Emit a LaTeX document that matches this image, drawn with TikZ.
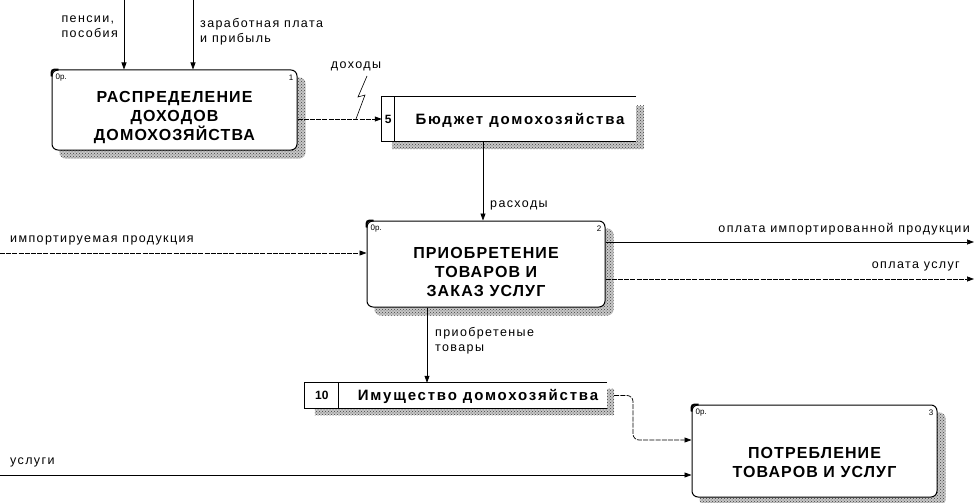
\documentclass[tikz,border=0pt]{standalone}
\usepackage{fontspec}
\setmainfont{Liberation Sans}
\newfontfamily\lblfont[LetterSpace=11]{Liberation Sans}
\newfontfamily\ttlfont[LetterSpace=7]{Liberation Sans}
\newfontfamily\stfont[LetterSpace=12]{Liberation Sans}
\usetikzlibrary{arrows.meta,patterns,calc,backgrounds}
\tikzset{
  act/.style={draw, rounded corners=6pt, line width=1pt, fill=white, inner sep=0pt},
  acttxt/.style={align=center, font=\ttlfont\bfseries\fontsize{16}{19}\selectfont, inner sep=0pt},
  storebox/.style={fill=white, inner sep=0pt},
  storetxt/.style={font=\stfont\bfseries\fontsize{15}{17}\selectfont, inner sep=0pt},
  lbl/.style={font=\lblfont\fontsize{12.5}{15}\selectfont, align=left, inner sep=0pt},
  small/.style={font=\fontsize{8}{9}\selectfont, inner sep=0pt},
  flow/.style={line width=0.7pt, -{Triangle[length=7pt,width=5pt]}},
  dflow/.style={flow, dash pattern=on 5pt off 1.2pt},
  shdbase/.style={fill=black!22, draw=none},
  shd/.style={pattern=crosshatch dots, pattern color=black!75, draw=none},
}
\begin{document}
\begin{tikzpicture}[x=1pt,y=-1pt]
\useasboundingbox (0,0) rectangle (978,503);

% activity boxes
\node[act, minimum width=245pt, minimum height=80pt] (b1) at (174.5,110) {};
\node[acttxt] (b1t) at ($(b1.center)+(0,8)$) {РАСПРЕДЕЛЕНИЕ\\ДОХОДОВ\\ДОМОХОЗЯЙСТВА};
\node[act, minimum width=238pt, minimum height=86pt] (b2) at (486,264) {};
\node[acttxt] (b2t) at ($(b2.center)+(0,8)$) {ПРИОБРЕТЕНИЕ\\ТОВАРОВ И\\ЗАКАЗ УСЛУГ};
\node[act, minimum width=245pt, minimum height=92pt] (b3) at (814.5,451) {};
\node[acttxt] (b3t) at ($(b3.center)+(0,11)$) {ПОТРЕБЛЕНИЕ\\ТОВАРОВ И УСЛУГ};

% data stores
\node[storebox, minimum width=254pt, minimum height=44pt] (s5) at (509,119) {};
\node[storebox, minimum width=302pt, minimum height=25pt] (s10) at (456,395.5) {};

\begin{scope}[on background layer]
  \foreach \b in {b1,b2,b3}{
    \fill[shdbase, rounded corners=6pt] ($(\b.north west)+(8,8)$) rectangle ($(\b.south east)+(8,8)$);
    \fill[shd, rounded corners=6pt] ($(\b.north west)+(8,8)$) rectangle ($(\b.south east)+(8,8)$);
  }
  \fill[shdbase] ($(s5.north west)+(10,9)$) rectangle ($(s5.south east)+(8,8)$);
  \fill[shd] ($(s5.north west)+(10,9)$) rectangle ($(s5.south east)+(8,8)$);
  \fill[shdbase] ($(s10.north west)+(10,6)$) rectangle ($(s10.south east)+(7,7)$);
  \fill[shd] ($(s10.north west)+(10,6)$) rectangle ($(s10.south east)+(7,7)$);
\end{scope}

\draw[line width=0.9pt] (s5.north east) -- (s5.north west) -- (s5.south west) -- (s5.south east);
\draw[line width=0.9pt] ($(s5.north west)+(13,0)$) coordinate (s5d) -- ($(s5.south west)+(13,0)$);
\node[font=\bfseries\fontsize{12}{14}\selectfont, inner sep=0pt] (n5) at ($(s5.west)!0.5!(s5d |- s5.west)$) {5};
\node[storetxt] (t5) at (520,120) {Бюджет домохозяйства};

\draw[line width=0.9pt] (s10.north east) -- (s10.north west) -- (s10.south west) -- (s10.south east);
\draw[line width=0.9pt] ($(s10.north west)+(34,0)$) coordinate (s10d) -- ($(s10.south west)+(34,0)$);
\node[font=\bfseries\fontsize{12}{14}\selectfont, inner sep=0pt] (n10) at ($(s10.west)!0.5!(s10d |- s10.west)$) {10};
\node[storetxt] (t10) at (478,396) {Имущество домохозяйства};

% corner marks and numbers
\foreach \b/\n in {b1/1,b2/2,b3/3}{
  \draw[line width=2pt] ($(\b.north west)+(0,7)$) .. controls (\b.north west) .. ($(\b.north west)+(7,0)$);
  \node[small, anchor=west] at ($(\b.north west)+(4,8)$) {0р.};
  \node[small, anchor=east] at ($(\b.north east)+(-4,8)$) {\n};
}

% inputs to box 1
\coordinate (p1) at (124,0);
\coordinate (p2) at (193,0);
\draw[flow] (p1) -- (p1 |- b1.north);
\draw[flow] (p2) -- (p2 |- b1.north);
\node[lbl, anchor=north east] (lp1) at (118,16) {пенсии,\\пособия};
\node[lbl, anchor=north west] (lp2) at (200,18) {заработная плата\\и прибыль};

% доходы
\draw[dflow] (b1.east |- s5.west) -- (s5.west);
\node[lbl, anchor=center] (ld) at (356,66) {доходы};
\draw[line width=0.6pt] (367,76) -- (358,97) -- (365,95) -- (356,119);

% расходы
\coordinate (rx) at (483,0);
\draw[flow] (s5.south -| rx) -- (b2.north -| rx);
\node[lbl, anchor=west] (lr) at (490,205) {расходы};

% импортируемая продукция
\coordinate (imp) at (0,253);
\draw[dflow] (imp) -- (imp -| b2.west);
\node[lbl, anchor=west] (li) at (10,240) {импортируемая продукция};

% outputs of box 2
\coordinate (o1) at (974,242);
\coordinate (o2) at (974,279);
\draw[flow] (b2.east |- o1) -- (o1);
\draw[dflow] (b2.east |- o2) -- (o2);
\node[lbl, anchor=east] (lo1) at (970,229) {оплата импортированной продукции};
\node[lbl, anchor=east] (lo2) at (960,266) {оплата услуг};

% приобретеные товары
\coordinate (px) at (427,0);
\draw[flow] (b2.south -| px) -- (s10.north -| px);
\node[lbl, anchor=north west] (lpt) at (435,327) {приобретеные\\товары};

% store 10 to box 3
\coordinate (y440) at (0,440);
\draw[dflow, rounded corners=6pt] ($(s10.east)+(7,0)$) -- (633,395.5) -- (633,440) -- (b3.west |- y440);

% услуги
\coordinate (usl) at (0,475);
\draw[flow] (usl) -- (usl -| b3.west);
\node[lbl, anchor=west] (lu) at (10,462) {услуги};
\end{tikzpicture}
\end{document}
